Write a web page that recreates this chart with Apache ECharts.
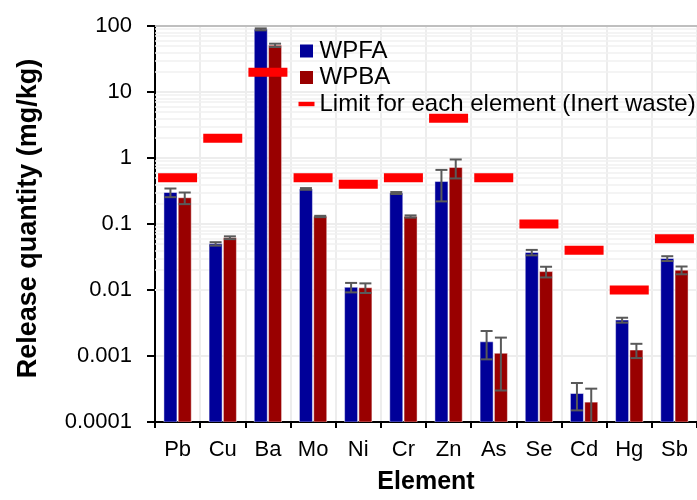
<!DOCTYPE html>
<html>
<head>
<meta charset="utf-8">
<script src="https://cdn.jsdelivr.net/npm/echarts@6/dist/echarts.min.js"></script>
<style>html,body{margin:0;padding:0;background:#fff}#c{width:697px;height:500px}</style>
</head>
<body>
<div id="c"></div>
<script>
const categories = ['Pb','Cu','Ba','Mo','Ni','Cr','Zn','As','Se','Cd','Hg','Sb'];
const wpfa    = [0.30, 0.050, 89, 0.34, 0.011, 0.295, 0.44, 0.00164, 0.037, 0.00027, 0.0035, 0.030];
const wpfaErr = [0.045, 0.003, 3, 0.01, 0.0018, 0.01, 0.22, 0.00075, 0.0035, 0.00012, 0.0003, 0.0025];
const wpba    = [0.25, 0.062, 51, 0.13, 0.0108, 0.13, 0.72, 0.0011, 0.019, 0.0002, 0.00123, 0.020];
const wpbaErr = [0.05, 0.003, 3, 0.003, 0.0018, 0.005, 0.23, 0.0008, 0.0035, 0.00012, 0.0003, 0.0027];
const limits  = [0.5, 2, 20, 0.5, 0.4, 0.5, 4, 0.5, 0.1, 0.04, 0.01, 0.06];
const yTickLabels = ['0.0001','0.001','0.01','0.1','1','10','100'];
const seriesNames = ['WPFA','WPBA','Limit for each element (Inert waste)'];

const YMIN = 0.0001, YMAX = 100;
const FONT = 'Arial, "Liberation Sans", sans-serif';
const BAR_W = 13, BAR_OFF = 7.15;

// minor log gridline positions (2..9 within each decade)
const minorLines = [];
for (let e = -4; e < 2; e++) {
  for (let m = 2; m <= 9; m++) minorLines.push({yAxis: m * Math.pow(10, e)});
}

function barRenderer(color, offset) {
  return function (params, api) {
    const i = api.value(0), v = api.value(1), err = api.value(2);
    const top = api.coord([i, v]);
    const base = api.coord([i, YMIN]);
    const cx = top[0] + offset;
    const hi = api.coord([i, v + err]);
    const lo = api.coord([i, Math.max(v - err, YMIN * 0.01)]);
    const cap = 6;
    const ls = {stroke: '#595959', lineWidth: 2};
    return {
      type: 'group',
      children: [
        {type: 'rect', shape: {x: cx - BAR_W / 2, y: top[1], width: BAR_W, height: base[1] - top[1]},
         style: {fill: color, stroke: 'rgba(255,255,255,0.45)', lineWidth: 1}},
        {type: 'line', shape: {x1: cx, y1: hi[1], x2: cx, y2: lo[1]}, style: ls},
        {type: 'line', shape: {x1: cx - cap, y1: hi[1], x2: cx + cap, y2: hi[1]}, style: ls},
        {type: 'line', shape: {x1: cx - cap, y1: lo[1], x2: cx + cap, y2: lo[1]}, style: ls}
      ]
    };
  };
}

const chart = echarts.init(document.getElementById('c'), null, {renderer: 'canvas'});
chart.setOption({
  animation: false,
  backgroundColor: '#fff',
  textStyle: {fontFamily: FONT},
  grid: {left: 155, top: 26, width: 548, height: 400, containLabel: false},
  legend: {
    orient: 'vertical', left: 298.5, top: 39, padding: 0, z: 6,
    itemWidth: 16, itemHeight: 13, itemGap: 2.5, selectedMode: false,
    textStyle: {fontSize: 24, color: '#000', fontFamily: FONT, lineHeight: 24},
    data: [
      {name: seriesNames[0], icon: 'path://M0,0 M16,13 M1.5,0 H14.5 V13 H1.5 Z'},
      {name: seriesNames[1], icon: 'path://M0,0 M16,13 M1.5,0 H14.5 V13 H1.5 Z'},
      {name: seriesNames[2], icon: 'path://M0,0 M16,13 M0,4.3 H16 V8.7 H0 Z'}
    ]
  },
  graphic: [{
    type: 'text', x: 29, y: 218.5, rotation: Math.PI / 2,
    style: {text: 'Release quantity (mg/kg)', font: 'bold 27px ' + FONT, fill: '#000',
            textAlign: 'center', textVerticalAlign: 'middle'}
  }],
  xAxis: {
    type: 'category', data: categories, boundaryGap: true,
    name: 'Element', nameLocation: 'middle', nameGap: 48,
    nameTextStyle: {fontSize: 25, fontWeight: 'bold', color: '#000', fontFamily: FONT},
    axisLine: {lineStyle: {color: '#000', width: 2}},
    axisTick: {show: true, interval: 0, length: 6, lineStyle: {color: '#000', width: 2}},
    axisLabel: {fontSize: 22, color: '#000', margin: 17, interval: 0, fontFamily: FONT},
    splitLine: {show: true, interval: 0, lineStyle: {color: '#ededed', width: 2}}
  },
  yAxis: {
    type: 'log', logBase: 10, min: YMIN, max: YMAX, interval: 1,
    axisLine: {show: true, lineStyle: {color: '#000', width: 2}},
    axisTick: {show: true, length: 8, lineStyle: {color: '#000', width: 2}},
    axisLabel: {fontSize: 22, color: '#000', margin: 23, fontFamily: FONT,
      formatter: function (v) { const k = Math.round(Math.log10(v)) + 4; return yTickLabels[k] !== undefined ? yTickLabels[k] : ''; }},
    splitLine: {show: true, lineStyle: {color: '#ededed', width: 2}}
  },
  series: [
    {
      name: seriesNames[0], type: 'custom', clip: true, z: 3,
      itemStyle: {color: '#000099'},
      encode: {x: 0, y: 1},
      data: wpfa.map((v, i) => [i, v, wpfaErr[i]]),
      renderItem: barRenderer('#000099', -BAR_OFF),
      markLine: {
        silent: true, z: 1, symbol: 'none', label: {show: false},
        lineStyle: {color: '#f0f0f0', width: 1.5, type: 'solid'},
        data: minorLines
      }
    },
    {
      name: seriesNames[1], type: 'custom', clip: true, z: 3,
      itemStyle: {color: '#990000'},
      encode: {x: 0, y: 1},
      data: wpba.map((v, i) => [i, v, wpbaErr[i]]),
      renderItem: barRenderer('#990000', BAR_OFF),
      markLine: {
        silent: true, z: 1, symbol: 'none', label: {show: false},
        lineStyle: {color: '#bfbfbf', width: 2, type: 'solid'},
        data: [{yAxis: YMAX}]
      }
    },
    {
      name: seriesNames[2], type: 'scatter', z: 5,
      symbol: 'rect', symbolSize: [39, 9],
      itemStyle: {color: '#ff0000', opacity: 1},
      data: limits.map((v, i) => [i, v])
    }
  ]
});
</script>
</body>
</html>
